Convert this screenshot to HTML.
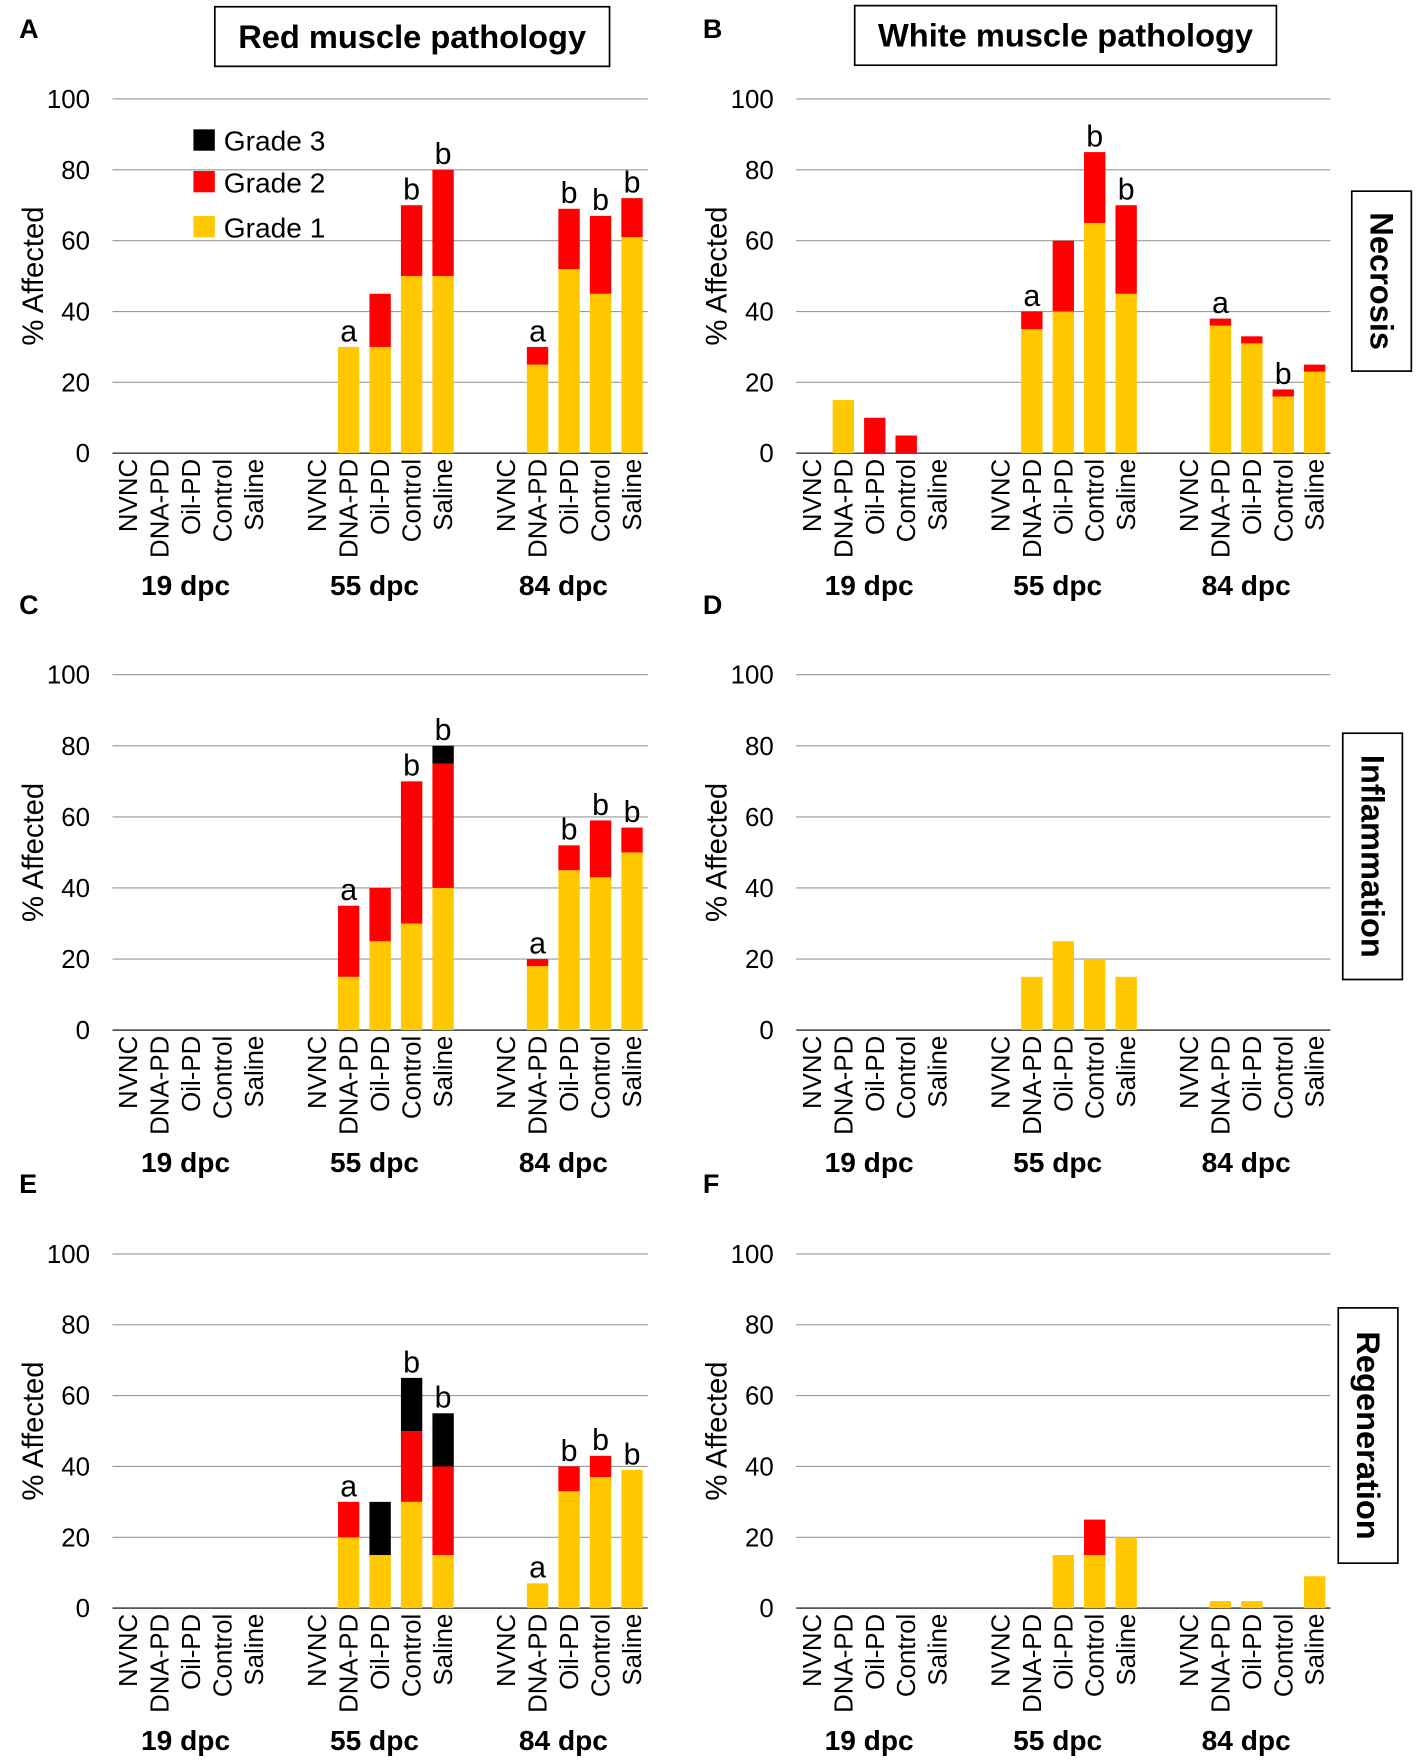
<!DOCTYPE html>
<html><head><meta charset="utf-8"><style>
html,body{margin:0;padding:0;background:#fff;}
svg{display:block;font-family:"Liberation Sans",Arial,sans-serif;}
</style></head><body>
<svg id="fig" width="1417" height="1763" viewBox="0 0 1260 1567.7" xmlns="http://www.w3.org/2000/svg"></svg>
<script>
const categories = ["NVNC","DNA-PD","Oil-PD","Control","Saline"];
const groups = ["19 dpc","55 dpc","84 dpc"];
const yTicks = [0,20,40,60,80,100];
// per panel: 15 values (19 dpc x5, 55 dpc x5, 84 dpc x5)
const aG1 = [0,0,0,0,0, 0,30,30,50,50, 0,25,52,45,61];
const aG2 = [0,0,0,0,0, 0,0,15,20,30, 0,5,17,22,11];
const aG3 = [0,0,0,0,0, 0,0,0,0,0, 0,0,0,0,0];
const aSig = ["","","","","", "","a","","b","b", "","a","b","b","b"];
const bG1 = [0,15,0,0,0, 0,35,40,65,45, 0,36,31,16,23];
const bG2 = [0,0,10,5,0, 0,5,20,20,25, 0,2,2,2,2];
const bG3 = [0,0,0,0,0, 0,0,0,0,0, 0,0,0,0,0];
const bSig = ["","","","","", "","a","","b","b", "","a","","b",""];
const cG1 = [0,0,0,0,0, 0,15,25,30,40, 0,18,45,43,50];
const cG2 = [0,0,0,0,0, 0,20,15,40,35, 0,2,7,16,7];
const cG3 = [0,0,0,0,0, 0,0,0,0,5, 0,0,0,0,0];
const cSig = ["","","","","", "","a","","b","b", "","a","b","b","b"];
const dG1 = [0,0,0,0,0, 0,15,25,20,15, 0,0,0,0,0];
const dG2 = [0,0,0,0,0, 0,0,0,0,0, 0,0,0,0,0];
const dG3 = [0,0,0,0,0, 0,0,0,0,0, 0,0,0,0,0];
const dSig = ["","","","","", "","","","","", "","","","",""];
const eG1 = [0,0,0,0,0, 0,20,15,30,15, 0,7,33,37,39];
const eG2 = [0,0,0,0,0, 0,10,0,20,25, 0,0,7,6,0];
const eG3 = [0,0,0,0,0, 0,0,15,15,15, 0,0,0,0,0];
const eSig = ["","","","","", "","a","","b","b", "","a","b","b","b"];
const fG1 = [0,0,0,0,0, 0,0,15,15,20, 0,2,2,0,9];
const fG2 = [0,0,0,0,0, 0,0,0,10,0, 0,0,0,0,0];
const fG3 = [0,0,0,0,0, 0,0,0,0,0, 0,0,0,0,0];
const fSig = ["","","","","", "","","","","", "","","","",""];

const NS="http://www.w3.org/2000/svg";
const svg=document.getElementById('fig');
function mk(tag,attrs,parent,text){const e=document.createElementNS(NS,tag);for(const k in attrs)e.setAttribute(k,attrs[k]);if(text!==undefined)e.textContent=text;(parent||svg).appendChild(e);return e;}

const COL={g1:"#FFC800",g2:"#FF0000",g3:"#000000"};
function drawPanel(id,x0,x1,yTop,yZero,letter,G1,G2,G3,SIG){
  const g=mk('g',{});
  
  
  const ys=v=>yZero-(v/100)*(yZero-yTop);
  const slot=(x1-x0)/17;
  const xc=i=>x0+slot/2+slot*(Math.floor(i/5)*6+(i%5));
  const lt=mk('text',{x:x0-83,y:yTop-54,'font-size':24,'font-weight':'bold'},g,letter);
  
  
  yTicks.forEach(t=>{
    const ln=mk('line',{x1:x0,x2:x1,y1:ys(t),y2:ys(t),stroke:t===0?'#555':'#999','stroke-width':t===0?1.5:1},g);
    
    
    const tx=mk('text',{x:x0-20,y:ys(t)+8,'font-size':23,'text-anchor':'end'},g,String(t));
    
    
  });
  const yt=mk('text',{transform:`translate(${x0-62},${(yTop+yZero)/2}) rotate(-90)`,'font-size':26,'text-anchor':'middle'},g,'% Affected');
  
  
  for(let i=0;i<15;i++){
    const cx=xc(i),w=19;
    let base=0;
    [[G1[i],COL.g1,'grade1'],[G2[i],COL.g2,'grade2'],[G3[i],COL.g3,'grade3']].forEach(([v,c,n])=>{
      if(v>0){
        const r=mk('rect',{x:cx-w/2,y:ys(base+v),width:w,height:ys(base)-ys(base+v),fill:c},g);
        
        
      }
      base+=v;
    });
    if(SIG[i]){
      const s=mk('text',{x:cx,y:ys(base)-5,'font-size':27,'text-anchor':'middle'},g,SIG[i]);
      
      
    }
    const cl=mk('text',{transform:`translate(${cx+8},${yZero+5}) rotate(-90)`,'font-size':23,'text-anchor':'end'},g,categories[i%5]);
    
    
  }
  groups.forEach((gn,k)=>{
    const gx=(xc(k*5)+xc(k*5+4))/2-5;
    const gl=mk('text',{x:gx,y:yZero+126,'font-size':25,'font-weight':'bold','text-anchor':'middle'},g,gn);
    
    
  });
}
const rows=[[88,403],[600,916],[1115,1430]];
drawPanel('a',100,576,rows[0][0],rows[0][1],'A',aG1,aG2,aG3,aSig);
drawPanel('b',708,1183,rows[0][0],rows[0][1],'B',bG1,bG2,bG3,bSig);
drawPanel('c',100,576,rows[1][0],rows[1][1],'C',cG1,cG2,cG3,cSig);
drawPanel('d',708,1183,rows[1][0],rows[1][1],'D',dG1,dG2,dG3,dSig);
drawPanel('e',100,576,rows[2][0],rows[2][1],'E',eG1,eG2,eG3,eSig);
drawPanel('f',708,1183,rows[2][0],rows[2][1],'F',fG1,fG2,fG3,fSig);

function boxTitle(name,x,y,w,h,text,vertical){
  const g=mk('g',{});
  
  
  mk('rect',{x:x,y:y,width:w,height:h,fill:'#fff',stroke:'#000','stroke-width':1.5},g);
  if(vertical){
    mk('text',{transform:`translate(${x+w/2-10},${y+h/2}) rotate(90)`,'font-size':29,'font-weight':'bold','text-anchor':'middle'},g,text);
  } else {
    mk('text',{x:x+w/2,y:y+h/2+10,'font-size':29,'font-weight':'bold','text-anchor':'middle'},g,text);
  }
}
boxTitle('red-muscle-title',191,6,351,53,'Red muscle pathology',false);
boxTitle('white-muscle-title',760,5,375,53,'White muscle pathology',false);
boxTitle('necrosis-label',1202,170,53,160,'Necrosis',true);
boxTitle('inflammation-label',1194,652,53,219,'Inflammation',true);
boxTitle('regeneration-label',1190,1163,53,227,'Regeneration',true);

const legendLabels=["Grade 3","Grade 2","Grade 1"];
const legendColors=[COL.g3,COL.g2,COL.g1];
const lg=mk('g',{});


[125,162,202].forEach((yy,k)=>{
  const e=mk('g',{},lg);
  
  
  mk('rect',{x:172,y:yy-10,width:19,height:19,fill:legendColors[k]},e);
  mk('text',{x:199,y:yy+9,'font-size':25},e,legendLabels[k]);
});
</script>
</body></html>
